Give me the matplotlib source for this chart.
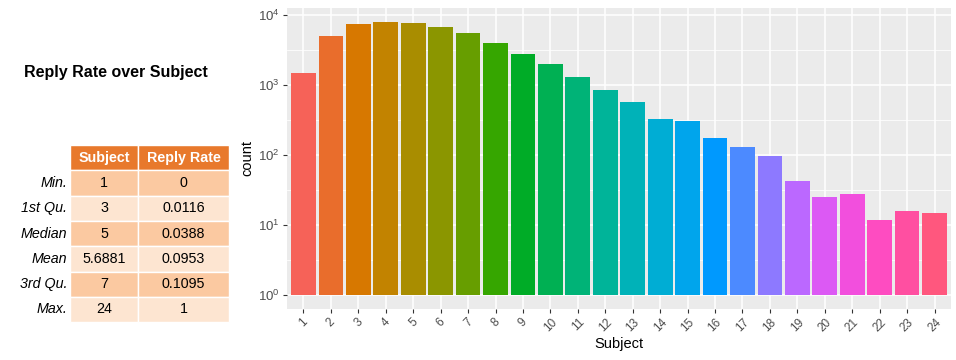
import numpy as np
import matplotlib
matplotlib.use("Agg")
import matplotlib.pyplot as plt
from matplotlib.patches import Rectangle

plt.rcParams['font.family'] = ['Liberation Sans', 'DejaVu Sans']
plt.rcParams['mathtext.default'] = 'regular'

# 数据
subjects = list(range(1, 25))
counts = [1490, 5020, 7450, 7950, 7690, 6740, 5420, 3990, 2790, 2000, 1310, 854,
          576, 330, 309, 172, 132, 98, 43, 25, 27.5, 12, 16, 15]

row_names = ['Min.', '1st Qu.', 'Median', 'Mean', '3rd Qu.', 'Max.']
col_names = ['Subject', 'Reply Rate']
subject_stats = ['1', '3', '5', '5.6881', '7', '24']
rate_stats = ['0', '0.0116', '0.0388', '0.0953', '0.1095', '1']


def hue_pal(n, c=100, l=65, gamma=1.25):
    """ggplot2 默认色板 (hcl -> sRGB)，gamma 用来贴近参考图的显示色"""
    hues = np.linspace(15, 375, n + 1)[:-1]
    xn, yn, zn = 95.047, 100.0, 108.883
    un = 4 * xn / (xn + 15 * yn + 3 * zn)
    vn = 9 * yn / (xn + 15 * yn + 3 * zn)
    out = []
    for h in hues:
        u = c * np.cos(np.radians(h))
        v = c * np.sin(np.radians(h))
        Y = yn * ((l + 16) / 116) ** 3
        up = u / (13 * l) + un
        vp = v / (13 * l) + vn
        X = 9 * Y * up / (4 * vp)
        Z = -X / 3 - 5 * Y + 3 * Y / vp
        X, Y, Z = X / 100, Y / 100, Z / 100
        r = 3.240479 * X - 1.537150 * Y - 0.498535 * Z
        g = -0.969256 * X + 1.875992 * Y + 0.041556 * Z
        b = 0.055648 * X - 0.204043 * Y + 1.057311 * Z
        rgb = []
        for ch in (r, g, b):
            ch = 12.92 * ch if ch <= 0.0031308 else 1.055 * max(ch, 0) ** (1 / 2.4) - 0.055
            ch = min(max(ch, 0), 1)
            rgb.append(ch ** gamma)
        out.append(tuple(rgb))
    return out


fig = plt.figure(figsize=(9.56, 3.6), dpi=100)

# ---- 左侧表格 (像素坐标) ----
axt = fig.add_axes([0, 0, 240 / 956, 1])
axt.set_xlim(0, 240)
axt.set_ylim(360, 0)
axt.axis('off')

axt.text(116, 73, 'Reply Rate over Subject', ha='center', va='center',
         fontsize=11.5, fontweight='bold', color='black')

col_x = [70, 138, 229]
header_top, row_h = 145, 25.3
fs = 10.3
for j, name in enumerate(col_names):
    axt.add_patch(Rectangle((col_x[j], header_top), col_x[j + 1] - col_x[j], row_h,
                            facecolor='#E8792C', edgecolor='white', lw=1))
    axt.text((col_x[j] + col_x[j + 1]) / 2, header_top + row_h / 2, name,
             ha='center', va='center', color='white', fontsize=fs, fontweight='bold')

for i, rn in enumerate(row_names):
    y0 = header_top + row_h * (i + 1)
    fc = '#FBC9A1' if i % 2 == 0 else '#FDE5D1'
    for j, val in enumerate([subject_stats[i], rate_stats[i]]):
        axt.add_patch(Rectangle((col_x[j], y0), col_x[j + 1] - col_x[j], row_h,
                                facecolor=fc, edgecolor='white', lw=1))
        axt.text((col_x[j] + col_x[j + 1]) / 2, y0 + row_h / 2, val,
                 ha='center', va='center', color='black', fontsize=fs)
    axt.text(67, y0 + row_h / 2, rn, ha='right', va='center',
             fontsize=fs, style='italic', color='black')

# ---- 右侧柱状图 ----
ax = fig.add_axes([287 / 956, (360 - 309) / 360, (951 - 287) / 956, (309 - 8) / 360])
ax.set_facecolor('#EBEBEB')
ax.set_axisbelow(True)

colors = hue_pal(len(subjects))
ax.bar(subjects, np.array(counts) - 1, bottom=1, width=0.9, color=colors, zorder=2)

ax.set_yscale('log')
major = [10 ** k for k in range(5)]
ax.set_yticks(major)
ax.set_yticklabels([r'$10^{%d}$' % k for k in range(5)])
ax.set_yticks([10 ** (k + 0.5) for k in range(-1, 5)], minor=True)
ax.yaxis.set_minor_formatter(plt.NullFormatter())
ax.tick_params(axis='y', which='minor', length=0)

ax.set_xticks(subjects)
ax.set_xticklabels([str(s) for s in subjects], rotation=45, ha='center', va='top')

# 坐标范围放在 set_yticks 之后，否则会被撑大
ax.set_ylim(10 ** -0.195, 10 ** 4.095)
ax.set_xlim(0.4, 24.6)

ax.grid(True, which='major', color='white', lw=1.1, zorder=0)
ax.grid(True, which='minor', axis='y', color='white', lw=0.55, zorder=0)

for s in ax.spines.values():
    s.set_visible(False)

ax.tick_params(axis='both', which='major', length=3, width=0.8, color='#333333',
               labelcolor='#4D4D4D', labelsize=8.5, pad=2)
ax.tick_params(axis='y', labelsize=9.5)

ax.set_xlabel('Subject', fontsize=10.5, labelpad=2)
ax.set_ylabel('count', fontsize=10.5, labelpad=3)

fig.savefig('out.png', dpi=100)
